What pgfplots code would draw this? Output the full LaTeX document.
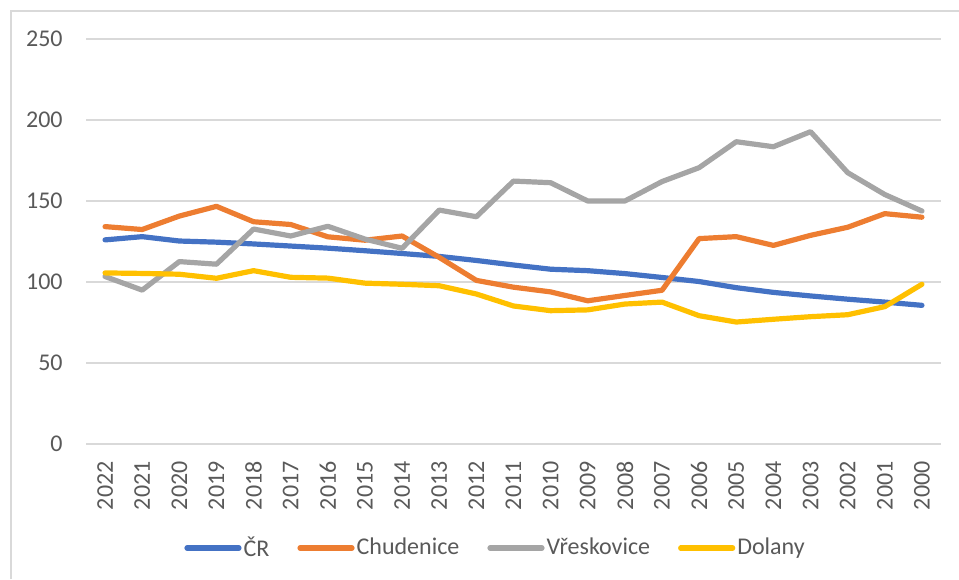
\documentclass[border=0pt]{standalone}
\usepackage{pgfplots}
\pgfplotsset{compat=1.18}
\usepackage{fontspec}
\setmainfont{Carlito}
\definecolor{cblue}{HTML}{4472C4}
\definecolor{corange}{HTML}{ED7D31}
\definecolor{cgray}{HTML}{A5A5A5}
\definecolor{cyellow}{HTML}{FFC000}
\definecolor{cgrid}{HTML}{D9D9D9}
\definecolor{ctext}{HTML}{595959}
\begin{document}
\begin{tikzpicture}
\begin{axis}[
  at={(43.25pt,-222pt)}, anchor=south west,
  scale only axis, width=427pt, height=202.5pt,
  xmin=-0.5, xmax=22.5, ymin=0, ymax=250,
  ytick={0,50,100,150,200,250},
  xtick={0,...,22},
  xticklabels={2022,2021,2020,2019,2018,2017,2016,2015,2014,2013,2012,2011,2010,2009,2008,2007,2006,2005,2004,2003,2002,2001,2000},
  axis line style={draw=none},
  major tick length=0pt,
  ymajorgrids, grid style={cgrid, line width=0.75pt},
  /pgf/number format/assume math mode=true,
  tick label style={font=\fontsize{12}{14}\selectfont, text=ctext},
  yticklabel style={anchor=east, inner sep=0pt, xshift=-11.75pt},
  xticklabel style={rotate=90, anchor=east, inner sep=0pt, xshift=-8.5pt},
  legend columns=4,
  legend style={at={(0.479,-0.257)}, anchor=center, draw=none, fill=none,
    font=\fontsize{12}{14}\selectfont, text=ctext,
    nodes={inner sep=1pt},
    /tikz/every even column/.append style={column sep=13pt},
    /tikz/every odd column/.append style={column sep=0pt}},
  legend image code/.code={\draw[#1, line width=2.6pt, line cap=round] (0pt,0pt) -- (26pt,0pt);},
  every axis plot/.append style={line width=2.6pt, line join=round, line cap=round, mark=none},
]
\addplot[cblue] coordinates {(0,126) (1,128) (2,125.3) (3,124.6) (4,123.5) (5,122.2) (6,120.9) (7,119.3) (8,117.6) (9,115.8) (10,113.3) (11,110.5) (12,107.9) (13,107) (14,105.2) (15,102.8) (16,100.3) (17,96.5) (18,93.6) (19,91.4) (20,89.4) (21,87.6) (22,85.6)};
\addlegendentry{ČR}
\addplot[corange] coordinates {(0,134.2) (1,132.4) (2,140.7) (3,146.7) (4,137.2) (5,135.5) (6,127.9) (7,125.8) (8,128.4) (9,115.2) (10,101) (11,96.8) (12,93.9) (13,88.4) (14,91.7) (15,94.9) (16,126.8) (17,128) (18,122.6) (19,128.8) (20,133.8) (21,142.2) (22,140)};
\addlegendentry{Chudenice}
\addplot[cgray] coordinates {(0,103.4) (1,95) (2,112.6) (3,111) (4,132.7) (5,128.4) (6,134.4) (7,126.5) (8,120.8) (9,144.4) (10,140.3) (11,162.3) (12,161.3) (13,150) (14,150) (15,162) (16,170.6) (17,186.6) (18,183.5) (19,192.8) (20,167.5) (21,154) (22,143.8)};
\addlegendentry{Vřeskovice}
\addplot[cyellow] coordinates {(0,105.6) (1,105.3) (2,104.8) (3,102.3) (4,107) (5,102.9) (6,102.4) (7,99.3) (8,98.6) (9,97.7) (10,92.6) (11,85.2) (12,82.3) (13,82.8) (14,86.4) (15,87.6) (16,79.2) (17,75.3) (18,77) (19,78.6) (20,79.8) (21,84.8) (22,98.6)};
\addlegendentry{Dolany}
\end{axis}
\draw[cgrid, line width=0.75pt] (5.5pt,-289.5pt) -- (5.5pt,-5.5pt) -- (479.5pt,-5.5pt);
\pgfresetboundingbox
\useasboundingbox (0,0) rectangle (479.5pt,-289.5pt);
\end{tikzpicture}
\end{document}
